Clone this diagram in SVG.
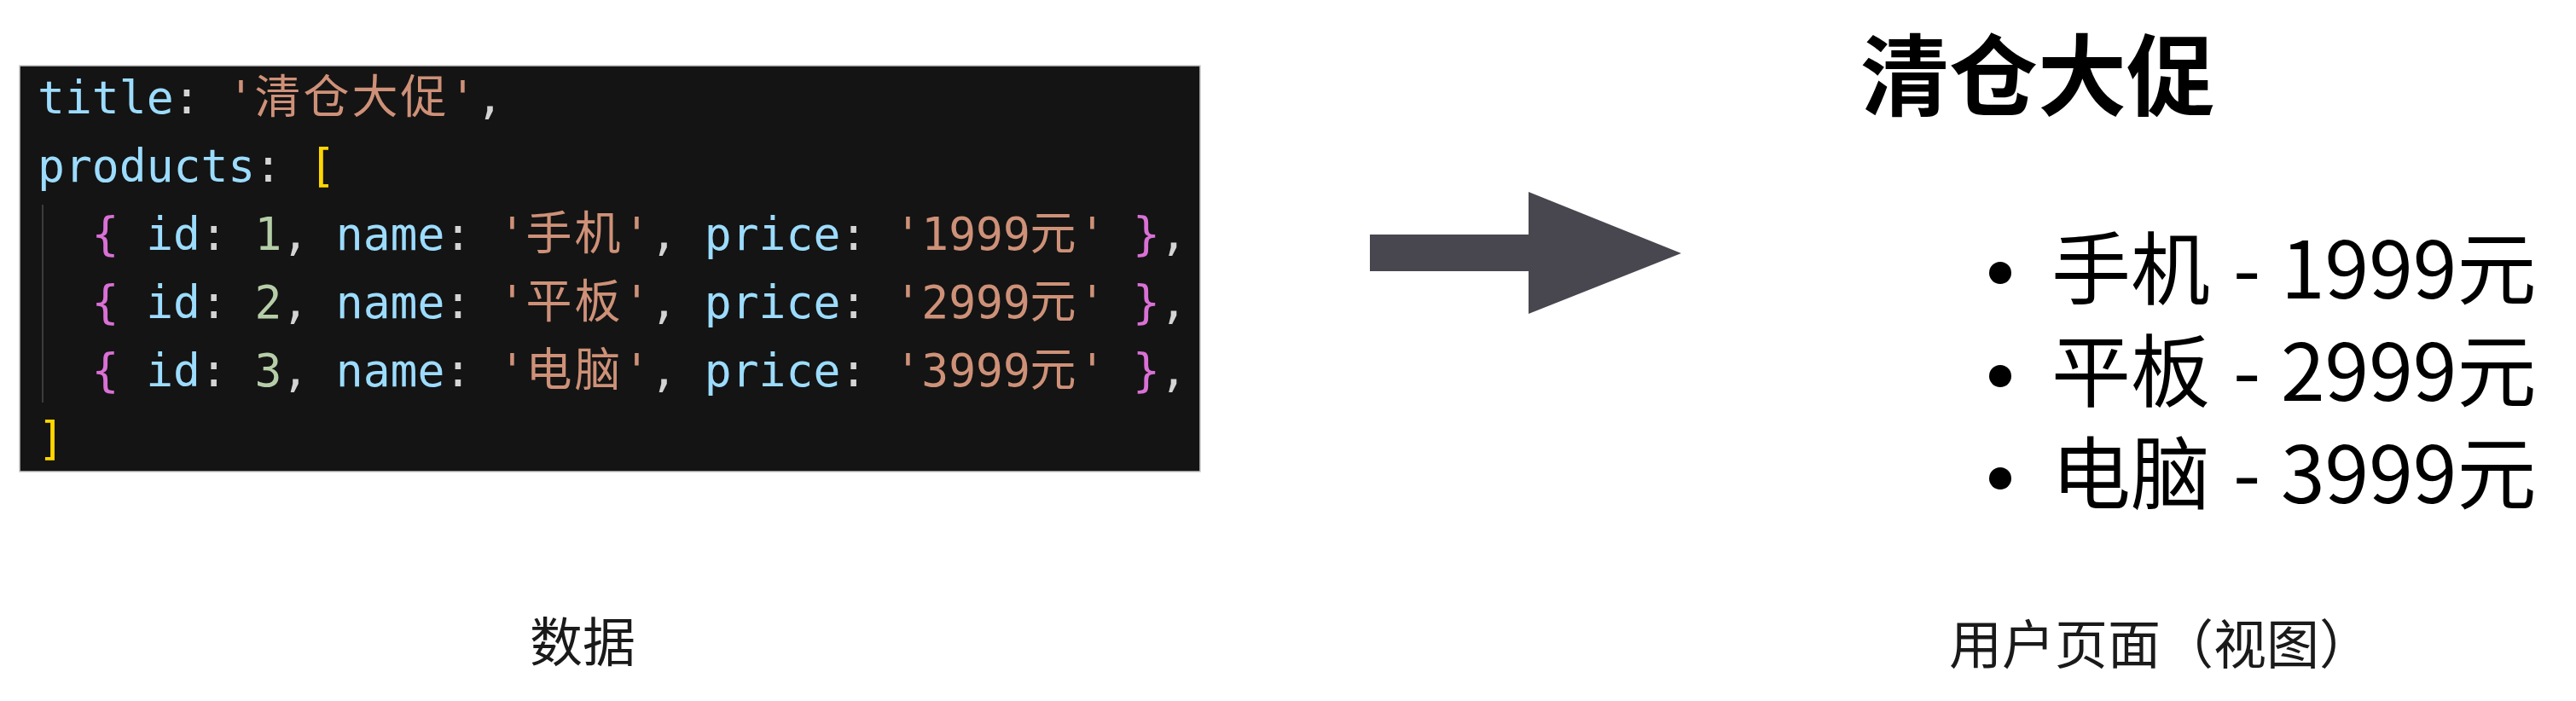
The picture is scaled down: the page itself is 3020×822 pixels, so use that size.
<svg xmlns="http://www.w3.org/2000/svg" width="3020" height="822" viewBox="0 0 3020 822">
  <style>
    .code { font-family: "DejaVu Sans Mono", "Liberation Mono", "Noto Sans CJK SC", monospace; font-size: 53px; fill: #D4D4D4; }
    .cjk { font-family: "Noto Sans CJK SC", sans-serif; font-size: 54px; letter-spacing: 3px; }
    .key { fill: #9CDCFE; }
    .str { fill: #CE9178; }
    .num { fill: #B5CEA8; }
    .brace { fill: #DA70D6; }
    .brack { fill: #FFD700; }
    .punc { fill: #D4D4D4; }
    .view { font-family: "Noto Sans CJK SC", "Noto Sans", sans-serif; fill: #000000; }
    .label { font-family: "Noto Sans CJK SC", "Noto Sans", sans-serif; font-size: 62px; fill: #1a1a1a; }
  </style>
  <rect width="3020" height="822" fill="#ffffff"/>

  <g id="data-node">
    <rect x="23" y="77" width="1384" height="476" fill="#141414" stroke="#c8c8c8" stroke-width="1.5"/>
    <line x1="50" y1="240" x2="50" y2="472" stroke="#3c3c3c" stroke-width="2"/>
    <text class="code" y="133">
      <tspan class="key" x="44">title</tspan><tspan class="punc" x="203">:</tspan><tspan class="str" x="266.6">'</tspan><tspan class="str cjk" x="298.4">清仓大促</tspan><tspan class="str" x="526.4">'</tspan><tspan class="punc" x="558.2">,</tspan>
    </text>
    <text class="code" y="213">
      <tspan class="key" x="44">products</tspan><tspan class="punc" x="298.4">:</tspan><tspan class="brack" x="362">[</tspan>
    </text>
    <text class="code" y="293">
      <tspan class="brace" x="107.6">{</tspan><tspan class="key" x="171.2">id</tspan><tspan class="punc" x="234.8">:</tspan><tspan class="num" x="298.4">1</tspan><tspan class="punc" x="330.2">,</tspan><tspan class="key" x="393.8">name</tspan><tspan class="punc" x="521">:</tspan><tspan class="str" x="584.6">'</tspan><tspan class="str cjk" x="616.4">手机</tspan><tspan class="str" x="730.4">'</tspan><tspan class="punc" x="762.2">,</tspan><tspan class="key" x="825.8">price</tspan><tspan class="punc" x="984.8">:</tspan><tspan class="str" x="1048.4">'1999</tspan><tspan class="str cjk" x="1207.4">元</tspan><tspan class="str" x="1264.4">'</tspan><tspan class="brace" x="1328">}</tspan><tspan class="punc" x="1359.8">,</tspan>
    </text>
    <text class="code" y="373">
      <tspan class="brace" x="107.6">{</tspan><tspan class="key" x="171.2">id</tspan><tspan class="punc" x="234.8">:</tspan><tspan class="num" x="298.4">2</tspan><tspan class="punc" x="330.2">,</tspan><tspan class="key" x="393.8">name</tspan><tspan class="punc" x="521">:</tspan><tspan class="str" x="584.6">'</tspan><tspan class="str cjk" x="616.4">平板</tspan><tspan class="str" x="730.4">'</tspan><tspan class="punc" x="762.2">,</tspan><tspan class="key" x="825.8">price</tspan><tspan class="punc" x="984.8">:</tspan><tspan class="str" x="1048.4">'2999</tspan><tspan class="str cjk" x="1207.4">元</tspan><tspan class="str" x="1264.4">'</tspan><tspan class="brace" x="1328">}</tspan><tspan class="punc" x="1359.8">,</tspan>
    </text>
    <text class="code" y="453">
      <tspan class="brace" x="107.6">{</tspan><tspan class="key" x="171.2">id</tspan><tspan class="punc" x="234.8">:</tspan><tspan class="num" x="298.4">3</tspan><tspan class="punc" x="330.2">,</tspan><tspan class="key" x="393.8">name</tspan><tspan class="punc" x="521">:</tspan><tspan class="str" x="584.6">'</tspan><tspan class="str cjk" x="616.4">电脑</tspan><tspan class="str" x="730.4">'</tspan><tspan class="punc" x="762.2">,</tspan><tspan class="key" x="825.8">price</tspan><tspan class="punc" x="984.8">:</tspan><tspan class="str" x="1048.4">'3999</tspan><tspan class="str cjk" x="1207.4">元</tspan><tspan class="str" x="1264.4">'</tspan><tspan class="brace" x="1328">}</tspan><tspan class="punc" x="1359.8">,</tspan>
    </text>
    <text class="code" y="533"><tspan class="brack" x="44">]</tspan></text>
  </g>

  <g id="connectors">
    <polygon points="1606,275 1792,275 1792,225 1971,297 1792,368 1792,318 1606,318" fill="#48474f"/>
  </g>

  <g id="view-node">
    <text class="view" x="2181" y="128" font-size="104" font-weight="700">清仓大促</text>
    <circle cx="2345" cy="320" r="13" fill="#000"/>
    <circle cx="2345" cy="441" r="13" fill="#000"/>
    <circle cx="2345" cy="561" r="13" fill="#000"/>
    <text class="view" y="350" font-size="93"><tspan x="2405">手机</tspan><tspan x="2618">-</tspan><tspan x="2674">1999元</tspan></text>
    <text class="view" y="470" font-size="93"><tspan x="2405">平板</tspan><tspan x="2618">-</tspan><tspan x="2674">2999元</tspan></text>
    <text class="view" y="590" font-size="93"><tspan x="2405">电脑</tspan><tspan x="2618">-</tspan><tspan x="2674">3999元</tspan></text>
  </g>

  <g id="label-data">
    <text class="label" x="621" y="776">数据</text>
  </g>
  <g id="label-view">
    <text class="label" x="2285" y="779" font-size="64">用户页面（视图）</text>
  </g>
</svg>
